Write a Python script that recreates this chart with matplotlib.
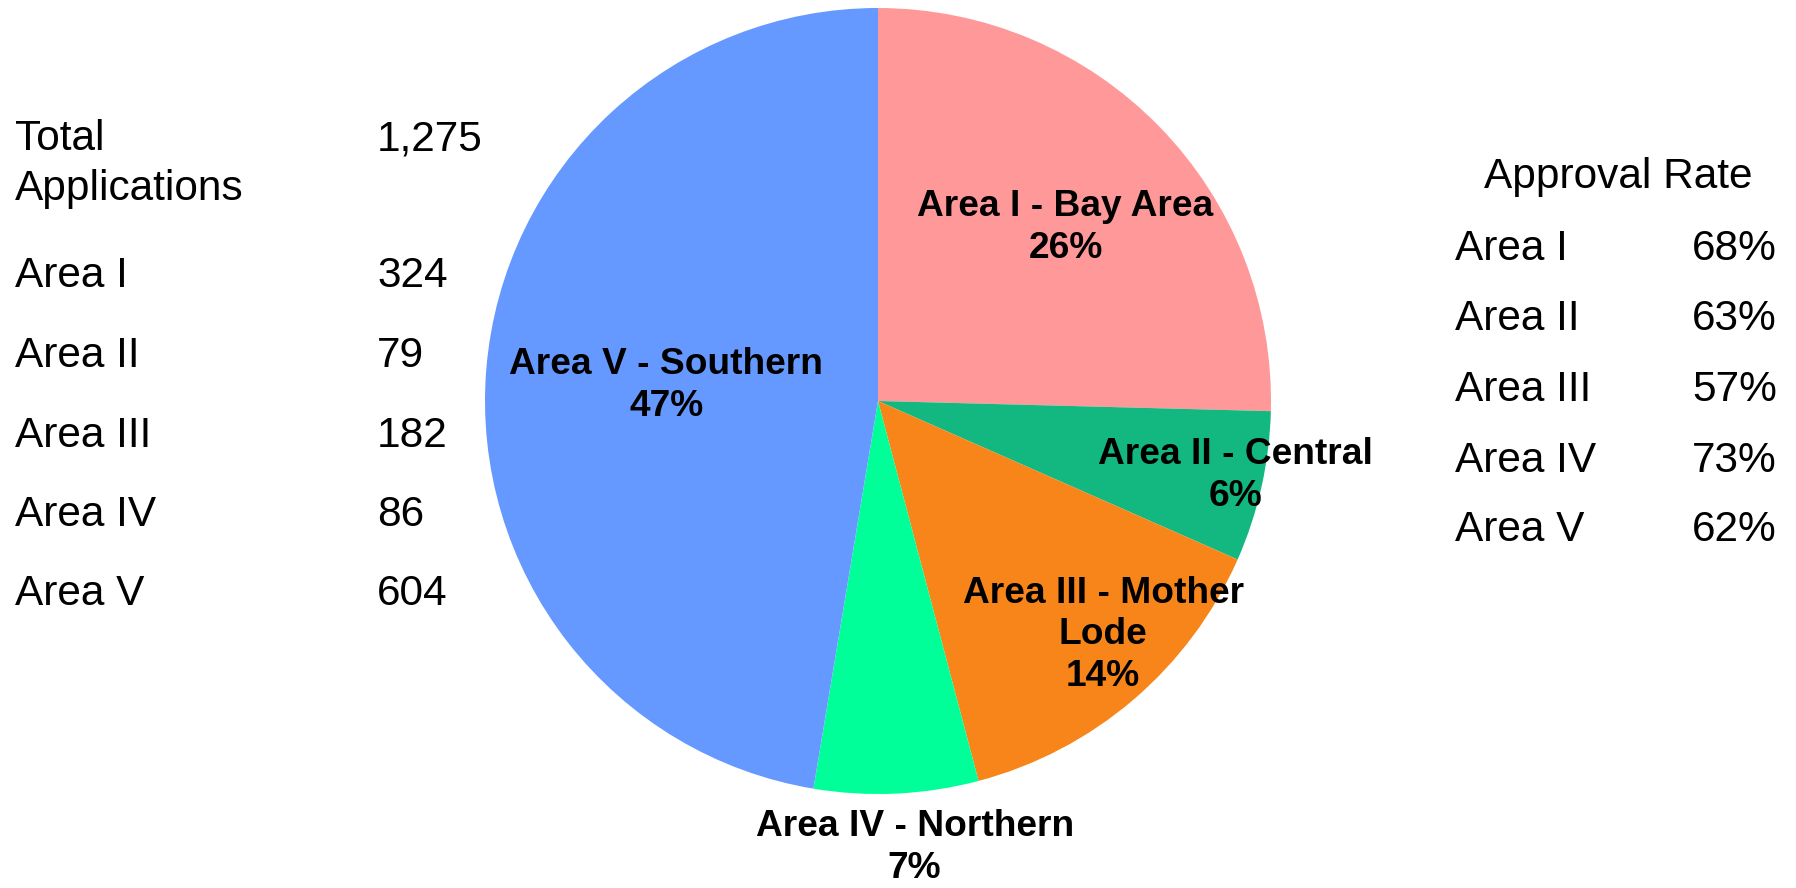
import matplotlib
matplotlib.use("Agg")
import matplotlib.pyplot as plt
import numpy as np

plt.rcParams['font.family'] = ['Liberation Sans', 'DejaVu Sans']

# data
areas = ["Area I", "Area II", "Area III", "Area IV", "Area V"]
region_names = ["Bay Area", "Central", "Mother\nLode", "Northern", "Southern"]
applications = [324, 79, 182, 86, 604]
share_labels = ["26%", "6%", "14%", "7%", "47%"]
approval_rates = ["68%", "63%", "57%", "73%", "62%"]

colors = ["#FF9999", "#12B880", "#F7851A", "#00FF99", "#6699FF"]
# wedge label placement: radius (fraction) and angle offset from wedge middle (deg)
label_r = [0.65, 0.93, 0.826, 1.14, 0.54]
label_dang = [-1.5, 0.9, 3.4, 2.0, 0.6]

W, H = 1796, 888
fig = plt.figure(figsize=(W / 100, H / 100), dpi=100)

# pie axes: centre (878, 401) px from top, radius 393 px
cx, cy, rad = 878, 401, 393
ax = fig.add_axes([(cx - rad) / W, (H - cy - rad) / H, 2 * rad / W, 2 * rad / H])
wedges, _ = ax.pie(applications, colors=colors, startangle=90, counterclock=False,
                   radius=1, wedgeprops=dict(linewidth=0))
ax.set_xlim(-1, 1)
ax.set_ylim(-1, 1)
ax.set_aspect("equal")
ax.axis("off")

for w, a, nm, s, r, da in zip(wedges, areas, region_names, share_labels, label_r, label_dang):
    mid = np.deg2rad((w.theta1 + w.theta2) / 2 + da)
    ax.text(r * np.cos(mid), r * np.sin(mid), f"{a} - {nm}\n{s}",
            ha="center", va="center", fontsize=26.7, fontweight="bold",
            linespacing=1.25, clip_on=False)


def px(x, y):
    return x / W, 1 - y / H


# left table
fs = 30.5
fig.text(*px(15, 150), "Total", fontsize=fs, va="baseline")
fig.text(*px(15, 200), "Applications", fontsize=fs, va="baseline")
fig.text(*px(377, 150), f"{sum(applications):,}", fontsize=fs, va="baseline")
left_y = [287, 367, 447, 526, 605]
for a, n, y in zip(areas, applications, left_y):
    fig.text(*px(15, y), a, fontsize=fs, va="baseline")
    fig.text(*px(377, y), str(n), fontsize=fs, va="baseline")

# right table
fig.text(*px(1618, 188), "Approval Rate", fontsize=fs, va="baseline", ha="center")
right_y = [260, 330, 401, 472, 541]
for a, p, y in zip(areas, approval_rates, right_y):
    fig.text(*px(1455, y), a, fontsize=fs, va="baseline")
    fig.text(*px(1777, y), p, fontsize=fs, va="baseline", ha="right")

fig.savefig("out.png", dpi=100, facecolor="white")
